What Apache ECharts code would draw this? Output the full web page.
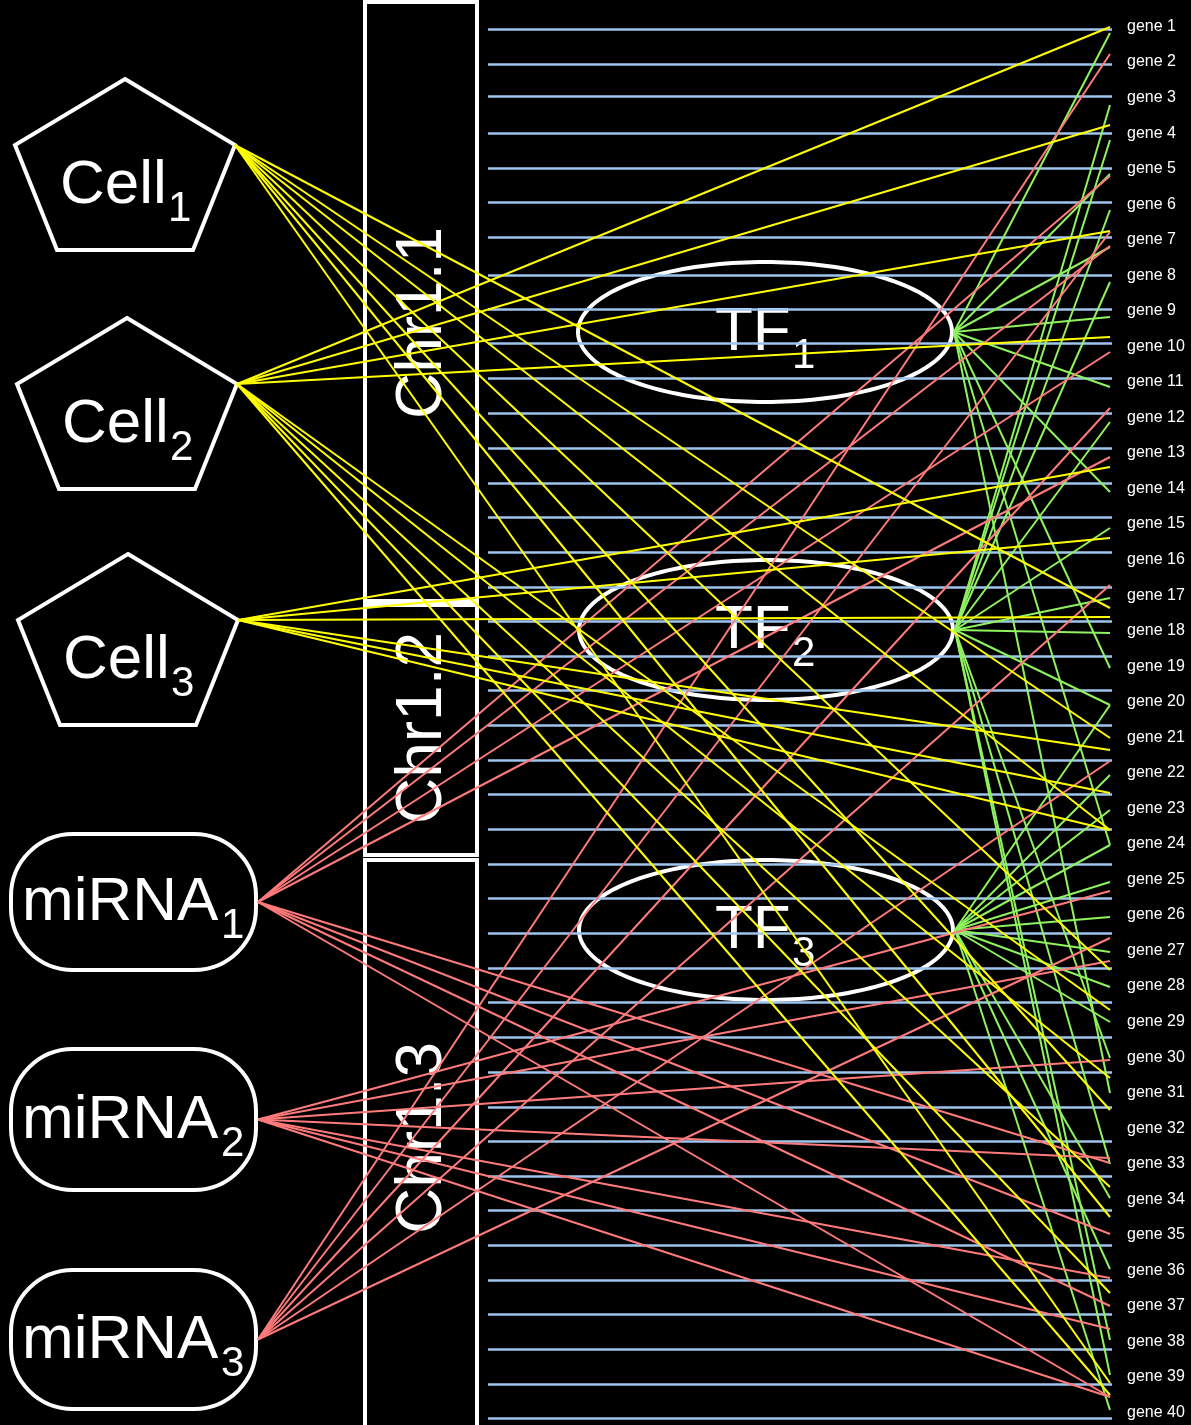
<!DOCTYPE html>
<html><head><meta charset="utf-8">
<script src="https://cdn.jsdelivr.net/npm/echarts@6/dist/echarts.min.js"></script>
<style>html,body{margin:0;padding:0;background:#000}#c{width:1191px;height:1425px}</style>
</head><body><div id="c"></div><script>
// ================= DATA =================
const genes = ['gene 1','gene 2','gene 3','gene 4','gene 5','gene 6','gene 7','gene 8','gene 9','gene 10',
  'gene 11','gene 12','gene 13','gene 14','gene 15','gene 16','gene 17','gene 18','gene 19','gene 20',
  'gene 21','gene 22','gene 23','gene 24','gene 25','gene 26','gene 27','gene 28','gene 29','gene 30',
  'gene 31','gene 32','gene 33','gene 34','gene 35','gene 36','gene 37','gene 38','gene 39','gene 40'];
// vertical positions of the blue gene tracks
const geneTracks = [29,64,96,133,168,202,237,275,309,343,378,413,448,483,517,552,587,621,656,690,725,
  760,794,829,864,898,933,968,1002,1037,1072,1107,1141,1176,1210,1245,1280,1314,1349,1384,1418];
const cellNames = ['Cell','Cell','Cell'];
const cellSubs = ['1','2','3'];
const mirnaNames = ['miRNA','miRNA','miRNA'];
const mirnaSubs = ['1','2','3'];
const tfNames = ['TF','TF','TF'];
const tfSubs = ['1','2','3'];
const chrNames = ['Chr1.1','Chr1.2','Chr1.3'];
// target positions (on the gene axis) of each regulator's links
const cellTargets = [
  [608,738,830,970,1110,1217,1383],
  [27,125,231,337,1010,1078,1187,1293,1395],
  [467,538,617,750,793,830]
];
const mirnaTargets = [
  [176,246,352,457,1163,1234,1306,1397],
  [891,961,1060,1158,1278,1329,1397],
  [54,232,408,585,761,938]
];
const tfTargets = [
  [33,174,247,317,387,492,668,845,1093],
  [105,140,210,282,422,528,598,633,705,1058,1164,1340,1375],
  [705,775,810,845,882,917,952,987,1022,1198,1269,1410]
];

// ================= LAYOUT =================
const W = 1191, H = 1425;
const FONT = "'Liberation Sans', Arial, sans-serif";
const L = {
  cellTop: [[125,79],[127,318],[128,554]],
  pent: [[0,0],[110,66],[68,171],[-68,171],[-110,66]],
  cellText: [[60,208],[62,447],[63,683]],
  mirnaBox: [[11,834,256,970],[11,1049,256,1190],[11,1270,256,1409]],
  mirnaText: [[22,925],[22,1143],[22,1363]],
  tfCenter: [[765,332],[766,630],[766,930]], tfRx: 187, tfRy: 70,
  tfText: [[715,355],[715,653],[715,953]],
  chrX: [365,477], chrY: [[2,601],[605,855],[860,1440]],
  chrText: [[423,323],[423,728],[423,1138]],
  trackX: [488,1112], linkX: 1110, labelX: 1127,
  labelY0: 26.5, labelStep: 35.54,
  bigFont: 62, subFont: 42, subDrop: 16
};
const mid = (baseline, fs) => baseline - 0.35 * fs;

function labelPair(api, x, baseline, main, sub, mainW) {
  const p = api.coord([x, mid(baseline, L.bigFont)]);
  const q = api.coord([x + mainW, mid(baseline + L.subDrop, L.subFont)]);
  return [
    {type:'text', x:p[0], y:p[1], style:{text:main, fill:'#fff', fontSize:L.bigFont, fontFamily:FONT, align:'left', verticalAlign:'middle'}},
    {type:'text', x:q[0], y:q[1], style:{text:sub, fill:'#fff', fontSize:L.subFont, fontFamily:FONT, align:'left', verticalAlign:'middle'}}
  ];
}

const cellSrc = L.cellTop.map(([x,y]) => [x + L.pent[1][0], y + L.pent[1][1]]);
const mirnaSrc = L.mirnaBox.map(b => [b[2] + 2, (b[1] + b[3]) / 2]);
const tfSrc = L.tfCenter.map(c => [c[0] + L.tfRx + 2, c[1]]);

function links(srcs, targets) {
  const out = [];
  targets.forEach((arr, i) => arr.forEach(t => out.push({coords: [srcs[i], [L.linkX, t]]})));
  return out;
}

const option = {
  backgroundColor: '#000',
  animation: false,
  grid: {left:0, right:0, top:0, bottom:0},
  xAxis: {type:'value', min:0, max:W, show:false},
  yAxis: {type:'value', min:0, max:H, inverse:true, show:false},
  series: [
    { // chromosome segments
      type:'custom', z:1, silent:true, data: chrNames.map((n,i)=>[i]),
      renderItem: (p, api) => {
        const i = api.value(0);
        const a = api.coord([L.chrX[0], L.chrY[i][0]]), b = api.coord([L.chrX[1], L.chrY[i][1]]);
        const t = api.coord(L.chrText[i]);
        return {type:'group', children:[
          {type:'rect', shape:{x:a[0], y:a[1], width:b[0]-a[0], height:b[1]-a[1]}, style:{fill:'none', stroke:'#fff', lineWidth:4}},
          {type:'text', x:t[0], y:t[1], rotation:Math.PI/2, style:{text:chrNames[i], fill:'#fff', fontSize:64, fontFamily:FONT, align:'center', verticalAlign:'middle'}}
        ]};
      }
    },
    { // cells (pentagons)
      type:'custom', z:1, silent:true, data: cellNames.map((n,i)=>[i]),
      renderItem: (p, api) => {
        const i = api.value(0);
        const [tx, ty] = L.cellTop[i];
        const pts = L.pent.map(([dx,dy]) => api.coord([tx+dx, ty+dy]));
        return {type:'group', children:[
          {type:'polygon', shape:{points:pts}, style:{fill:'none', stroke:'#fff', lineWidth:4}},
          ...labelPair(api, L.cellText[i][0], L.cellText[i][1], cellNames[i], cellSubs[i], 108)
        ]};
      }
    },
    { // miRNAs (rounded boxes)
      type:'custom', z:1, silent:true, data: mirnaNames.map((n,i)=>[i]),
      renderItem: (p, api) => {
        const i = api.value(0);
        const bx = L.mirnaBox[i];
        const a = api.coord([bx[0], bx[1]]), b = api.coord([bx[2], bx[3]]);
        return {type:'group', children:[
          {type:'rect', shape:{x:a[0], y:a[1], width:b[0]-a[0], height:b[1]-a[1], r:62}, style:{fill:'none', stroke:'#fff', lineWidth:4}},
          ...labelPair(api, L.mirnaText[i][0], L.mirnaText[i][1], mirnaNames[i], mirnaSubs[i], 199)
        ]};
      }
    },
    { // TFs (ellipses)
      type:'custom', z:1, silent:true, data: tfNames.map((n,i)=>[i]),
      renderItem: (p, api) => {
        const i = api.value(0);
        const [cx, cy] = L.tfCenter[i];
        const pts = [];
        for (let k = 0; k < 180; k++) {
          const th = k / 180 * Math.PI * 2;
          pts.push(api.coord([cx + L.tfRx*Math.cos(th), cy + L.tfRy*Math.sin(th)]));
        }
        return {type:'group', children:[
          {type:'polygon', shape:{points:pts}, style:{fill:'none', stroke:'#fff', lineWidth:4}},
          ...labelPair(api, L.tfText[i][0], L.tfText[i][1], tfNames[i], tfSubs[i], 77)
        ]};
      }
    },
    { // gene labels
      type:'custom', z:1, silent:true, data: genes.map((g,i)=>[i]),
      renderItem: (p, api) => {
        const i = api.value(0);
        const c = api.coord([L.labelX, L.labelY0 + i*L.labelStep]);
        return {type:'text', x:c[0], y:c[1], style:{text:genes[i], fill:'#fff', fontSize:16, fontFamily:FONT, align:'left', verticalAlign:'middle'}};
      }
    },
    { // gene tracks
      type:'lines', coordinateSystem:'cartesian2d', z:2, silent:true,
      data: geneTracks.map(y => ({coords:[[L.trackX[0], y],[L.trackX[1], y]]})),
      lineStyle:{color:'#9ec5ee', width:2.5, opacity:1}
    },
    { type:'lines', coordinateSystem:'cartesian2d', z:3, silent:true,
      data: links(tfSrc, tfTargets), lineStyle:{color:'#8ff25f', width:2, opacity:1} },
    { type:'lines', coordinateSystem:'cartesian2d', z:3, silent:true,
      data: links(mirnaSrc, mirnaTargets), lineStyle:{color:'#ff7b7b', width:2, opacity:1} },
    { type:'lines', coordinateSystem:'cartesian2d', z:3, silent:true,
      data: links(cellSrc, cellTargets), lineStyle:{color:'#ffff00', width:2, opacity:1} }
  ]
};
const chart = echarts.init(document.getElementById('c'), null, {renderer:'canvas'});
chart.setOption(option);
</script></body></html>
